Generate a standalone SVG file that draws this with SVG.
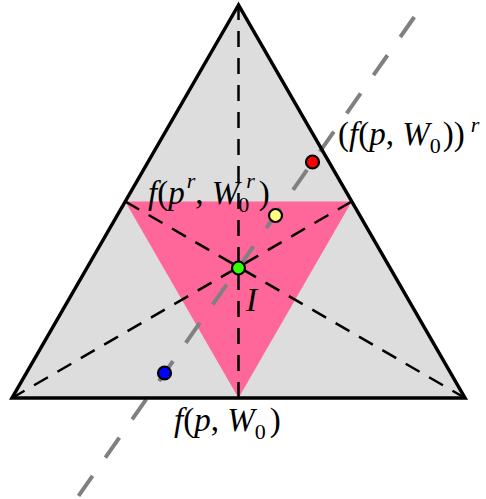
<svg xmlns="http://www.w3.org/2000/svg" width="486" height="499" viewBox="0 0 486 499">
<style>
.median{stroke:#000;stroke-width:2.5;stroke-dasharray:16 11;fill:none}
.axis{stroke:#808080;stroke-width:4;stroke-dasharray:24.4 22.3;fill:none}
.dot{stroke:#000;stroke-width:2.2}
.lbl{font-family:"Liberation Serif","Times New Roman",serif;font-style:italic;font-size:33px;fill:#000}
.sm{font-size:22px}
.up{font-style:normal}
</style>
<g id="big-triangle">
<polygon points="238.5,5 12,398 465,398" fill="#dddddd"/>
</g>
<g id="inner-triangle">
<polygon points="125.25,201.5 351.75,201.5 238.5,398" fill="#ff6699"/>
</g>
<g id="connectors">
<line class="median" x1="238.5" y1="398" x2="238.5" y2="5"/>
<line class="median" x1="351.75" y1="201.5" x2="12" y2="398"/>
<line class="median" x1="125.25" y1="201.5" x2="465" y2="398"/>
<line class="axis" x1="414.3" y1="17" x2="77" y2="498"/>
</g>
<g id="big-triangle-outline">
<polygon points="238.5,5 12,398 465,398" fill="none" stroke="#000" stroke-width="3.5" stroke-linejoin="miter"/>
</g>
<g id="point-red"><circle class="dot" cx="312.5" cy="162" r="6.5" fill="#ff0000"/></g>
<g id="point-yellow"><circle class="dot" cx="275.5" cy="215.5" r="6.5" fill="#ffff80"/></g>
<g id="point-green"><circle class="dot" cx="238.5" cy="268" r="6.5" fill="#33ff00"/></g>
<g id="point-blue"><circle class="dot" cx="164.5" cy="373" r="6.5" fill="#0000ff"/></g>
<g id="label-fpW0">
<text class="lbl" x="174" y="431">f<tspan class="up">(</tspan>p<tspan class="up">, </tspan>W<tspan class="sm up" dy="8">0</tspan><tspan class="up" dx="4" dy="-8">)</tspan></text>
</g>
<g id="label-fpW0r">
<text class="lbl" x="338" y="145"><tspan class="up">(</tspan>f<tspan class="up">(</tspan>p<tspan class="up">, </tspan>W<tspan class="sm up" dy="8">0</tspan><tspan class="up" dx="2" dy="-8">))</tspan><tspan class="sm" dx="6" dy="-13">r</tspan></text>
</g>
<g id="label-fprW0r">
<text class="lbl" x="148" y="204">f<tspan class="up">(</tspan>p<tspan class="sm" dx="2" dy="-16">r</tspan><tspan class="up" dy="16">, </tspan>W<tspan class="sm up" dx="-1" dy="8">0</tspan><tspan class="sm" dx="-3" dy="-24">r</tspan><tspan class="up" dx="4" dy="16">)</tspan></text>
</g>
<g id="label-I">
<text class="lbl" x="246" y="311">I</text>
</g>
</svg>
